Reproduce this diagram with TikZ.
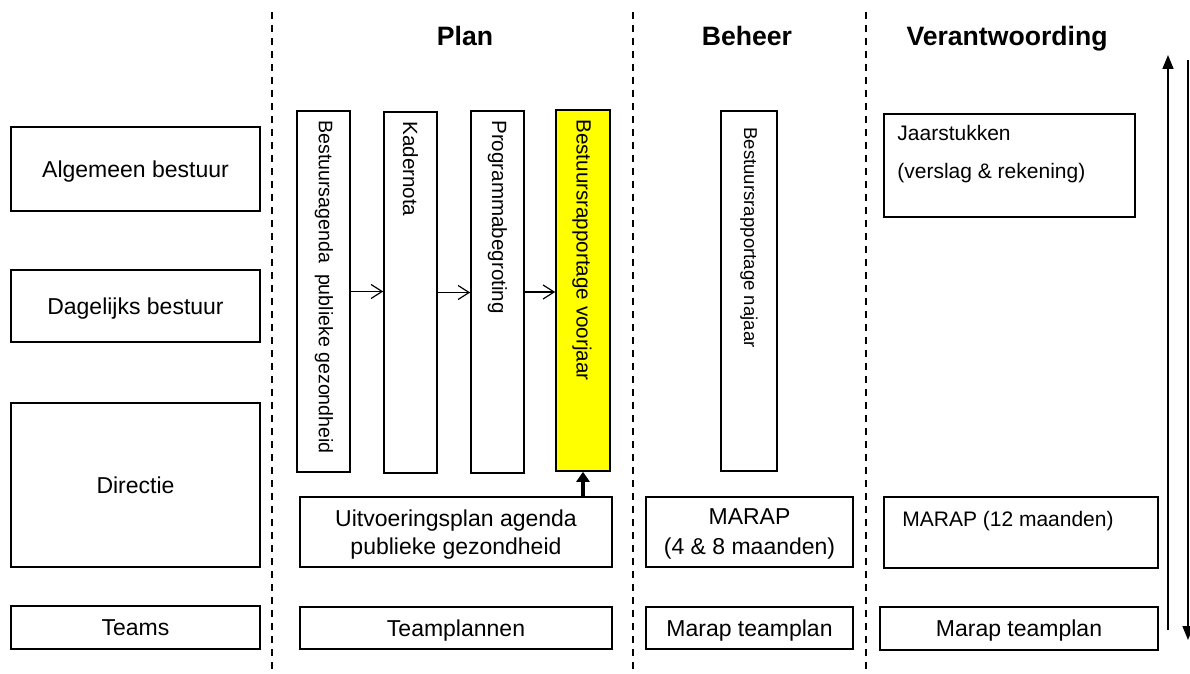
\documentclass[tikz,border=0pt]{standalone}
\usepackage{fontspec}
\setmainfont{Liberation Sans}
\usetikzlibrary{arrows.meta}
\begin{document}
\begin{tikzpicture}[x=0.5pt,y=-0.5pt,
  box/.style={draw=black, line width=0.8pt, inner sep=0pt, font=\fontsize{11.5}{14}\selectfont, align=center},
  one/.style={text height=8.2pt, text depth=0pt},
  vbox/.style={draw=black, line width=0.8pt, inner sep=0pt},
  vtext/.style={rotate=-90, anchor=west, inner sep=0pt, font=\fontsize{10.3}{12}\selectfont},
  head/.style={font=\fontsize{13.3}{16}\bfseries\selectfont, inner sep=0pt, anchor=base},
  sep/.style={line width=0.65pt, dash pattern=on 3.5pt off 3pt},
  flow/.style={line width=0.6pt, -{Straight Barb[length=5.5pt,width=7pt]}},
  thickarrow/.style={line width=2pt, -{Triangle[length=5pt,width=6.5pt]}},
  timearrow/.style={line width=0.8pt, -{Triangle[length=7pt,width=5.5pt]}}
]
\useasboundingbox (0,0) rectangle (1190,674);

% separators
\coordinate (s1t) at (272,12); \coordinate (s1b) at (272,674);
\coordinate (s2t) at (633,12); \coordinate (s2b) at (633,674);
\coordinate (s3t) at (866,12); \coordinate (s3b) at (866,674);
\draw[sep] (s1t) -- (s1b);
\draw[sep] (s2t) -- (s2b);
\draw[sep] (s3t) -- (s3b);

% headings
\node[head] (hplan) at (465,46) {Plan};
\node[head] (hbeheer) at (747,46) {Beheer};
\node[head] (hverant) at (1007,46) {Verantwoording};

% left column
\node[box, one, minimum width=124.5pt, minimum height=42pt] (alg) at (135.5,169) {Algemeen bestuur};
\node[box, one, minimum width=124.5pt, minimum height=36pt] (dag) at (135.5,306) {Dagelijks bestuur};
\node[box, one, minimum width=124.5pt, minimum height=82pt] (dir) at (135.5,485) {Directie};
\node[box, one, minimum width=124.5pt, minimum height=21.5pt] (teams) at (135.5,627.5) {Teams};

% plan column vertical boxes
\node[vbox, minimum width=26.5pt, minimum height=180.5pt] (v1) at (323.5,291.5) {};
\node[vbox, minimum width=26.5pt, minimum height=180.5pt] (v2) at (410.5,292.5) {};
\node[vbox, minimum width=26.5pt, minimum height=181pt] (v3) at (497.5,292) {};
\node[vbox, fill={rgb,255:red,255;green,255;blue,0}, minimum width=27pt, minimum height=180.5pt] (v4) at (583,290.5) {};
\node[vtext, font=\fontsize{9.8}{12}\selectfont] (t1) at (324,120) {Bestuursagenda\ \ publieke gezondheid};
\node[vtext] (t2) at (410.5,121) {Kadernota};
\node[vtext] (t3) at (497.5,120) {Programmabegroting};
\node[vtext] (t4) at (582,119) {Bestuursrapportage voorjaar};

\draw[flow] (v1.east) -- (v1.east -| v2.west);
\draw[flow] (v2.east) -- (v2.east -| v3.west);
\draw[flow] (v3.east) -- (v3.east -| v4.west);

\node[box, text depth=0pt, minimum width=156pt, minimum height=35pt] (uitv) at (456,532) {Uitvoeringsplan agenda\\publieke gezondheid};
\node[box, one, minimum width=156pt, minimum height=21pt] (tp) at (456,628) {Teamplannen};
\draw[thickarrow] (v4.south |- uitv.north) -- (v4.south);

% beheer column
\node[vbox, minimum width=28pt, minimum height=180pt] (b1) at (749,291) {};
\node[vtext, font=\fontsize{9.3}{11}\selectfont] (tb1) at (749,127) {Bestuursrapportage najaar};
\node[box, text depth=0pt, minimum width=103.5pt, minimum height=35pt, font=\fontsize{11.5}{15}\selectfont] (marap) at (749.5,532) {MARAP\\(4 \& 8 maanden)};
\node[box, one, minimum width=103.5pt, minimum height=21pt] (mt1) at (749.5,628) {Marap teamplan};

% verantwoording column
\node[vbox, minimum width=125.5pt, minimum height=51.5pt] (jaar) at (1009.5,165.5) {};
\node[anchor=west, inner sep=0pt, font=\fontsize{10.5}{13}\selectfont] (j1) at (897,133) {Jaarstukken};
\node[anchor=west, inner sep=0pt, font=\fontsize{10.5}{13}\selectfont] (j2) at (897,173) {(verslag \& rekening)};
\node[vbox, minimum width=137pt, minimum height=35.5pt] (m12) at (1021,532.5) {};
\node[inner sep=0pt, font=\fontsize{10.5}{13}\selectfont] (m12t) at (1008,521) {MARAP (12 maanden)};
\node[box, one, minimum width=139pt, minimum height=21.5pt] (mt2) at (1019,628.5) {Marap teamplan};

% time arrows
\coordinate (upS) at (1168,630); \coordinate (upE) at (1168,55);
\coordinate (dnS) at (1188,60); \coordinate (dnE) at (1188,640);
\draw[timearrow] (upS) -- (upE);
\draw[timearrow] (dnS) -- (dnE);
\end{tikzpicture}
\end{document}
